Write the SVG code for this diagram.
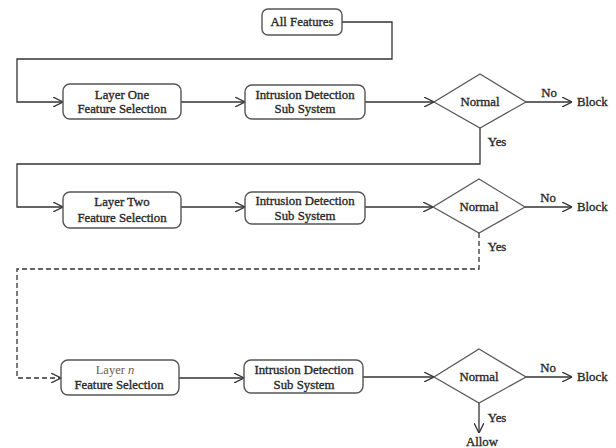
<svg xmlns="http://www.w3.org/2000/svg" width="616" height="448" viewBox="0 0 616 448">
<defs>
<style>
.box{fill:#fff;stroke:#555;stroke-width:1.4}
.dia{fill:#fff;stroke:#555;stroke-width:1.2}
.ln{fill:none;stroke:#333;stroke-width:1.3}
.dash{stroke-dasharray:5,3}
text{font-family:"Liberation Serif","Times New Roman",serif;font-size:12.8px;fill:#2a2a2a;stroke:#2a2a2a;stroke-width:0.35;text-anchor:middle}
.l{text-anchor:start}
.thin{font-size:12.5px;fill:#6b5e52;stroke:none}
</style>
<marker id="arr" viewBox="0 0 10 10" refX="10" refY="5" markerWidth="10" markerHeight="10" markerUnits="userSpaceOnUse" orient="auto">
<path d="M0,0 L10,5 L0,10" fill="none" stroke="#333" stroke-width="1.3"/>
</marker>
</defs>
<rect width="616" height="448" fill="#fff"/>
<g id="connectors">
<polyline class="ln" points="342,22 392,22 392,59 17,59 17,102 63,102" marker-end="url(#arr)"/>
<line class="ln" x1="181" y1="102" x2="245" y2="102" marker-end="url(#arr)"/>
<line class="ln" x1="365" y1="102" x2="434" y2="102" marker-end="url(#arr)"/>
<line class="ln" x1="526" y1="102" x2="572" y2="102" marker-end="url(#arr)"/>
<polyline class="ln" points="480,128 480,164 17,164 17,207 63,207" marker-end="url(#arr)"/>
<line class="ln" x1="181" y1="207" x2="245" y2="207" marker-end="url(#arr)"/>
<line class="ln" x1="365" y1="207" x2="433" y2="207" marker-end="url(#arr)"/>
<line class="ln" x1="525" y1="207" x2="572" y2="207" marker-end="url(#arr)"/>
<polyline class="ln dash" points="479,233 479,269 17,269 17,378 61,378" marker-end="url(#arr)"/>
<line class="ln" x1="179" y1="378" x2="244" y2="378" marker-end="url(#arr)"/>
<line class="ln" x1="363" y1="377" x2="434" y2="377" marker-end="url(#arr)"/>
<line class="ln" x1="526" y1="377" x2="572" y2="377" marker-end="url(#arr)"/>
<line class="ln" x1="479" y1="403" x2="479" y2="433" marker-end="url(#arr)"/>
<text x="549" y="97">No</text>
<text x="497" y="146">Yes</text>
<text x="548" y="202">No</text>
<text x="497" y="251">Yes</text>
<text x="548" y="372">No</text>
<text x="497" y="422">Yes</text>
</g>
<g id="all-features">
<rect class="box" x="262" y="9" width="80" height="26" rx="6"/>
<text x="302" y="26">All Features</text>
</g>
<g id="layer-one">
<rect class="box" x="63" y="84" width="118" height="35" rx="7"/>
<text x="122" y="99">Layer One</text>
<text x="122" y="113">Feature Selection</text>
</g>
<g id="ids-1">
<rect class="box" x="245" y="85" width="120" height="34" rx="7"/>
<text x="305" y="99">Intrusion Detection</text>
<text x="305" y="113">Sub System</text>
</g>
<g id="normal-1">
<polygon class="dia" points="480,74 526,102 480,128 434,102"/>
<text x="480" y="106">Normal</text>
</g>
<g id="block-1"><text class="l" x="577" y="106">Block</text></g>
<g id="layer-two">
<rect class="box" x="63" y="192" width="118" height="36" rx="7"/>
<text x="122" y="206">Layer Two</text>
<text x="122" y="222">Feature Selection</text>
</g>
<g id="ids-2">
<rect class="box" x="245" y="192" width="120" height="32" rx="7"/>
<text x="305" y="205">Intrusion Detection</text>
<text x="305" y="220">Sub System</text>
</g>
<g id="normal-2">
<polygon class="dia" points="479,179 525,207 479,233 433,207"/>
<text x="479" y="211">Normal</text>
</g>
<g id="block-2"><text class="l" x="577" y="211">Block</text></g>
<g id="layer-n">
<rect class="box" x="61" y="360" width="118" height="35" rx="7"/>
<text class="thin" x="115" y="374">Layer <tspan font-style="italic">n</tspan></text>
<text x="119" y="389">Feature Selection</text>
</g>
<g id="ids-3">
<rect class="box" x="244" y="360" width="119" height="33" rx="7"/>
<text x="304" y="374">Intrusion Detection</text>
<text x="304" y="389">Sub System</text>
</g>
<g id="normal-3">
<polygon class="dia" points="479,349 526,377 479,403 434,377"/>
<text x="479" y="381">Normal</text>
</g>
<g id="block-3"><text class="l" x="577" y="381">Block</text></g>
<g id="allow"><text x="482" y="446">Allow</text></g>
</svg>
